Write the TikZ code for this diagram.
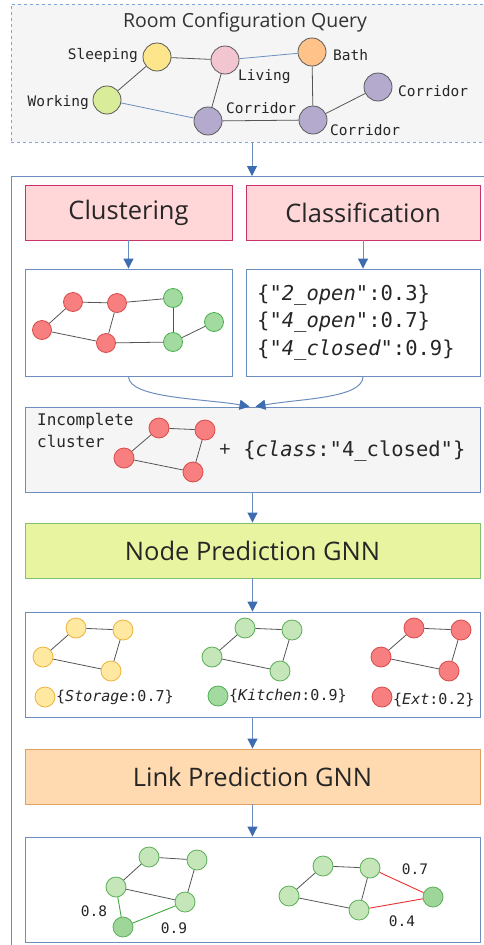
\documentclass[tikz,border=0pt]{standalone}
\usepackage{fontspec}
\setmainfont{Open Sans}
\setmonofont{DejaVu Sans Mono}
\usetikzlibrary{arrows.meta}
\definecolor{qborder}{HTML}{7EA6D8}
\definecolor{qfill}{HTML}{F5F5F5}
\definecolor{bline}{HTML}{6C8EBF}
\definecolor{barrow}{HTML}{3D6DB0}
\definecolor{clfill}{HTML}{FFD7D8}
\definecolor{clline}{HTML}{C8336B}
\definecolor{npfill}{HTML}{E8F4A0}
\definecolor{npline}{HTML}{82C070}
\definecolor{lpfill}{HTML}{FFDAB0}
\definecolor{lpline}{HTML}{E0A060}
\definecolor{edgegray}{HTML}{555555}
\definecolor{redfill}{HTML}{F77F80}
\definecolor{redline}{HTML}{D94A4A}
\definecolor{grnfill}{HTML}{A3DAA0}
\definecolor{grnline}{HTML}{4CAF50}
\definecolor{lgfill}{HTML}{C4E6B8}
\definecolor{lgline}{HTML}{5DAE5A}
\definecolor{dgfill}{HTML}{9ED69A}
\definecolor{yelfill}{HTML}{FFE9A0}
\definecolor{yelline}{HTML}{EDB33D}
\definecolor{sleepfill}{HTML}{FCE58A}
\definecolor{livfill}{HTML}{F2C6D0}
\definecolor{bathfill}{HTML}{FFC38A}
\definecolor{workfill}{HTML}{D9EC9A}
\definecolor{corrfill}{HTML}{B3AACE}
\definecolor{linkred}{HTML}{F03030}
\definecolor{linkgreen}{HTML}{40A840}
\begin{document}
\begin{tikzpicture}[x=1pt,y=-1pt,
  flow/.style={draw=bline, line width=1pt, -{Triangle[length=10pt,width=10pt,color=barrow,fill=barrow]}},
  box/.style={draw=bline, line width=0.9pt, fill=white, inner sep=0pt},
  stagebox/.style={line width=0.9pt, inner sep=0pt, minimum height=55pt, font=\fontsize{25.5}{28}\selectfont, text=black!85},
  room/.style={circle, draw=black!65, line width=0.8pt, minimum size=28pt, inner sep=0pt},
  gn/.style={circle, line width=0.8pt, minimum size=19pt, inner sep=0pt},
  rn/.style={gn, fill=redfill, draw=redline},
  gr/.style={gn, fill=grnfill, draw=grnline},
  yn/.style={gn, fill=yelfill, draw=yelline},
  lg/.style={gn, fill=lgfill, draw=lgline},
  dg/.style={gn, fill=dgfill, draw=lgline},
  edge/.style={draw=edgegray, line width=0.8pt},
  bedge/.style={draw=bline, line width=0.8pt},
  rlabel/.style={font=\ttfamily\fontsize{14.5}{16}\selectfont, text=black!85, inner sep=0pt},
  mono/.style={font=\ttfamily\fontsize{15}{17}\selectfont, text=black!85, inner sep=0pt}
]
\useasboundingbox (0,0) rectangle (484,945);
\clip (0,0) rectangle (484,945);
\fill[white] (0,0) rectangle (484,945);

% ---- query box
\node[draw=qborder, dashed, fill=qfill, line width=0.9pt, minimum width=482pt, minimum height=138pt, inner sep=0pt] (query) at (252,73) {};
\node[font=\fontsize{19.5}{22}\selectfont, text=black!80] (qtitle) at (245,22) {Room Configuration Query};

\node[room, fill=sleepfill] (sleep) at (157,57) {};
\node[room, fill=livfill] (liv) at (225,60) {};
\node[room, fill=bathfill] (bath) at (312,52) {};
\node[room, fill=workfill] (work) at (107,100) {};
\node[room, fill=corrfill] (c1) at (208,121) {};
\node[room, fill=corrfill] (c2) at (313,120) {};
\node[room, fill=corrfill] (c3) at (378,87) {};
\draw[edge] (sleep) -- (liv);
\draw[bedge] (liv) -- (bath);
\draw[edge] (sleep) -- (work);
\draw[edge] (liv) -- (c1);
\draw[bedge] (work) -- (c1);
\draw[edge] (c1) -- (c2);
\draw[edge] (bath) -- (c2);
\draw[edge] (c2) -- (c3);
\node[rlabel, anchor=east] (lsleep) at (138,56) {Sleeping};
\node[rlabel, anchor=west] (lliv) at (238,77) {Living};
\node[rlabel, anchor=west] (lbath) at (333,55) {Bath};
\node[rlabel, anchor=east] (lwork) at (89,103) {Working};
\node[rlabel, anchor=west] (lc1) at (226,108) {Corridor};
\node[rlabel, anchor=west] (lc3) at (398,91) {Corridor};
\node[rlabel, anchor=west] (lc2) at (330,130) {Corridor};

% ---- outer container
\node[draw=bline, line width=0.9pt, minimum width=482pt, minimum height=790pt, inner sep=0pt, anchor=north] (outer) at (252,176) {};
\draw[flow] (query.south) -- (outer.north);

% ---- stage 1
\node[stagebox, fill=clfill, draw=clline, minimum width=207pt] (clus) at (128.5,212.5) {Clustering};
\node[stagebox, fill=clfill, draw=clline, minimum width=234pt] (cls) at (363,212.5) {Classification};
\node[box, minimum width=207pt, minimum height=107pt] (clusres) at (128.5,322.5) {};
\node[box, minimum width=234pt, minimum height=107pt] (clsres) at (363,322.5) {};
\draw[flow] (clus.south) -- (clusres.north);
\draw[flow] (cls.south) -- (clsres.north);

\node[rn] (r1) at (42,330) {};
\node[rn] (r2) at (73,302) {};
\node[rn] (r3) at (117,303) {};
\node[rn] (r4) at (106,343) {};
\node[gr] (g1) at (173,298) {};
\node[gr] (g2) at (173,342) {};
\node[gr] (g3) at (214,322) {};
\draw[edge] (r1) -- (r2);
\draw[edge] (r2) -- (r3);
\draw[edge] (r3) -- (r4);
\draw[edge] (r1) -- (r4);
\draw[edge] (r3) -- (g1);
\draw[edge] (g1) -- (g2);
\draw[edge] (r4) -- (g2);
\draw[edge] (g2) -- (g3);

\node[anchor=west, align=left, font=\ttfamily\fontsize{20.5}{27.5}\selectfont, text=black!85, inner sep=0pt] (clstext) at (257,322.5)
 {\{{\itshape"2\_open"}:0.3\}\\\{{\itshape"4\_open"}:0.7\}\\\{{\itshape"4\_closed"}:0.9\}};

% ---- incomplete cluster
\node[draw=bline, line width=0.9pt, fill=qfill, minimum width=455pt, minimum height=85pt, inner sep=0pt] (inc) at (252.5,449.5) {};
\draw[flow] (clusres.south) .. controls +(0,22) and +(-45,-8) .. ([xshift=-3pt]inc.north);
\draw[flow] (clsres.south) .. controls +(0,22) and +(45,-8) .. ([xshift=3pt]inc.north);
\node[anchor=north west, align=left, font=\ttfamily\fontsize{16}{22.5}\selectfont, text=black!85, inner sep=0pt] (inclabel) at (37,413) {Incomplete\\cluster};
\node[rn, minimum size=20pt] (i1) at (159,428) {};
\node[rn, minimum size=20pt] (i2) at (205,430) {};
\node[rn, minimum size=20pt] (i3) at (124,458) {};
\node[rn, minimum size=20pt] (i4) at (193,472) {};
\draw[edge] (i1) -- (i2);
\draw[edge] (i2) -- (i4);
\draw[edge] (i4) -- (i3);
\draw[edge] (i3) -- (i1);
\node[anchor=west, font=\ttfamily\fontsize{20.5}{24}\selectfont, text=black!85, inner sep=0pt] (inctext) at (219,451)
 {{\rmfamily+} \{{\itshape class}:"4\_closed"\}};

% ---- node prediction
\node[stagebox, fill=npfill, draw=npline, minimum width=455pt] (np) at (252.5,550.5) {Node Prediction GNN};
\draw[flow] (inc.south) -- (np.north);
\node[box, minimum width=455pt, minimum height=105pt] (npres) at (252.5,664.5) {};
\draw[flow] (np.south) -- (npres.north);

\foreach \s/\dx/\nm in {yn/0/ya, lg/169/ga, rn/338/ra}{
  \node[\s, minimum size=20pt] (\nm1) at (76+\dx,628) {};
  \node[\s, minimum size=20pt] (\nm2) at (123+\dx,630) {};
  \node[\s, minimum size=20pt] (\nm3) at (43+\dx,657) {};
  \node[\s, minimum size=20pt] (\nm4) at (111+\dx,671) {};
  \draw[edge] (\nm1) -- (\nm2);
  \draw[edge] (\nm2) -- (\nm4);
  \draw[edge] (\nm4) -- (\nm3);
  \draw[edge] (\nm3) -- (\nm1);
}
\node[yn, minimum size=20pt] (ylg) at (45,697) {};
\node[gr, minimum size=20pt] (glg) at (218,696) {};
\node[rn, minimum size=20pt] (rlg) at (382,697) {};
\node[mono, anchor=west] (ytxt) at (56,697) {\{{\itshape Storage}:0.7\}};
\node[mono, anchor=west] (gtxt) at (229,696) {\{{\itshape Kitchen}:0.9\}};
\node[mono, anchor=west] (rtxt) at (393,700) {\{{\itshape Ext}:0.2\}};

% ---- link prediction
\node[stagebox, fill=lpfill, draw=lpline, minimum width=455pt] (lp) at (252.5,776.5) {Link Prediction GNN};
\draw[flow] (npres.south) -- (lp.north);
\node[box, minimum width=455pt, minimum height=105pt] (lpres) at (252.5,889.5) {};
\draw[flow] (lp.south) -- (lpres.north);

\node[lg, minimum size=20pt] (a1) at (149,857) {};
\node[lg, minimum size=20pt] (a2) at (197,860) {};
\node[lg, minimum size=20pt] (a3) at (116,887) {};
\node[lg, minimum size=20pt] (a4) at (185,902) {};
\node[dg, minimum size=20pt] (a5) at (123,927) {};
\draw[edge] (a1) -- (a2);
\draw[edge] (a2) -- (a4);
\draw[edge] (a3) -- (a1);
\draw[edge] (a3) -- (a4);
\draw[draw=linkgreen, line width=0.9pt] (a3) -- (a5);
\draw[draw=linkgreen, line width=0.9pt] (a5) -- (a4);
\node[rlabel] (l08) at (94,911) {0.8};
\node[rlabel] (l09) at (174,928) {0.9};

\node[lg, minimum size=20pt] (b1) at (323,866) {};
\node[lg, minimum size=20pt] (b2) at (370,868) {};
\node[lg, minimum size=20pt] (b3) at (289,896) {};
\node[lg, minimum size=20pt] (b4) at (359,910) {};
\node[dg, minimum size=20pt] (b5) at (433,897) {};
\draw[edge] (b1) -- (b2);
\draw[edge] (b2) -- (b4);
\draw[edge] (b3) -- (b1);
\draw[edge] (b3) -- (b4);
\draw[draw=linkred, line width=0.9pt] (b2) -- (b5);
\draw[draw=linkred, line width=0.9pt] (b4) -- (b5);
\node[rlabel] (l07) at (415,869) {0.7};
\node[rlabel] (l04) at (402,921) {0.4};
\end{tikzpicture}
\end{document}
